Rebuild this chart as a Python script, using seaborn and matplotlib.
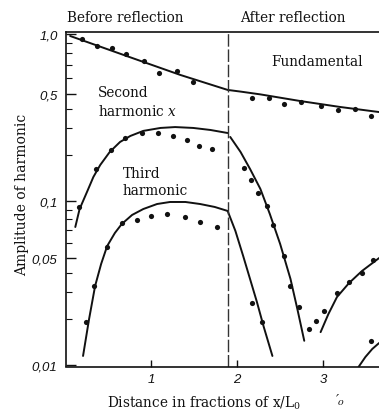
import numpy as np
import pandas as pd
import matplotlib
matplotlib.use("Agg")
import matplotlib.pyplot as plt
import seaborn as sns

# ---------------- data ----------------
reflection_x = 1.89

fund_curve_x = [0.06, 0.78, 1.34, 1.89, 2.04, 2.27, 2.73, 3.20, 3.65]
fund_curve_y = [0.977, 0.758, 0.623, 0.524, 0.514, 0.497, 0.450, 0.411, 0.381]
fund_pts_x = [0.20, 0.37, 0.55, 0.71, 0.92, 1.09, 1.30, 1.49,
              2.17, 2.37, 2.55, 2.74, 2.97, 3.17, 3.37, 3.55]
fund_pts_y = [0.944, 0.871, 0.851, 0.794, 0.732, 0.637, 0.652, 0.574,
              0.471, 0.471, 0.430, 0.444, 0.418, 0.393, 0.399, 0.359]

h2_before_x = [0.12, 0.17, 0.26, 0.33, 0.41, 0.52, 0.64, 0.76, 0.91, 1.11, 1.28, 1.49, 1.69, 1.89]
h2_before_y = [0.0729, 0.0907, 0.116, 0.1435, 0.172, 0.209, 0.243, 0.266, 0.287, 0.300, 0.304, 0.300, 0.291, 0.278]
h2_after_x = [1.92, 2.04, 2.15, 2.27, 2.38, 2.50, 2.62, 2.70, 2.78]
h2_after_y = [0.262, 0.209, 0.162, 0.120, 0.0854, 0.0593, 0.0365, 0.0232, 0.0144]
h2_lobe_x = [2.97, 3.06, 3.16, 3.30, 3.45, 3.65]
h2_lobe_y = [0.0164, 0.0215, 0.0278, 0.0343, 0.0411, 0.050]
h2_pts_x = [0.16, 0.36, 0.54, 0.70, 0.90, 1.08, 1.26, 1.42, 1.56, 1.71,
            2.08, 2.16, 2.24, 2.35, 2.42, 2.54, 2.62, 2.72, 2.83, 2.92, 3.01, 3.16, 3.30, 3.45, 3.58]
h2_pts_y = [0.093, 0.162, 0.215, 0.258, 0.278, 0.278, 0.266, 0.250, 0.229, 0.219,
            0.164, 0.137, 0.113, 0.094, 0.0747, 0.0513, 0.0328, 0.0239, 0.0172, 0.0194, 0.0225, 0.0295, 0.0348, 0.0399, 0.0485]

h3_before_x = [0.21, 0.28, 0.35, 0.42, 0.49, 0.58, 0.66, 0.78, 0.91, 1.07, 1.22, 1.40, 1.57, 1.74, 1.89]
h3_before_y = [0.01146, 0.01995, 0.0328, 0.0457, 0.0578, 0.0678, 0.0756, 0.0844, 0.0907, 0.0964, 0.0988, 0.0988, 0.0964, 0.0930, 0.0886]
h3_after_x = [1.89, 1.98, 2.07, 2.15, 2.23, 2.31, 2.41]
h3_after_y = [0.0886, 0.0695, 0.0513, 0.0365, 0.0258, 0.0177, 0.01146]
h3_lobe_x = [3.41, 3.49, 3.57, 3.65]
h3_lobe_y = [0.0097, 0.01128, 0.01273, 0.01393]
h3_pts_x = [0.24, 0.34, 0.49, 0.66, 0.84, 1.00, 1.19, 1.40, 1.57, 1.77, 2.17, 2.29, 3.56]
h3_pts_y = [0.0191, 0.0328, 0.0571, 0.0765, 0.0794, 0.0833, 0.0854, 0.0823, 0.0775, 0.0729, 0.0254, 0.0191, 0.01436]

y_tick_values = [1.0, 0.5, 0.1, 0.05, 0.01]
y_tick_labels = ["1,0", "0,5", "0,1", "0,05", "0,01"]
y_minor_values = [0.9, 0.8, 0.7, 0.6, 0.4, 0.3, 0.2, 0.09, 0.08, 0.07, 0.06, 0.04, 0.03, 0.02]
x_tick_values = [1, 2, 3]
x_tick_labels = ["1", "2", "3"]

# ---------------- build tables ----------------
segments = [
    ("fund", fund_curve_x, fund_curve_y),
    ("h2a", h2_before_x, h2_before_y),
    ("h2b", h2_after_x, h2_after_y),
    ("h2c", h2_lobe_x, h2_lobe_y),
    ("h3a", h3_before_x, h3_before_y),
    ("h3b", h3_after_x, h3_after_y),
    ("h3c", h3_lobe_x, h3_lobe_y),
]
curves = pd.concat([pd.DataFrame({"x": xs, "y": ys, "seg": name}) for name, xs, ys in segments],
                   ignore_index=True)
points = pd.concat([
    pd.DataFrame({"x": fund_pts_x, "y": fund_pts_y}),
    pd.DataFrame({"x": h2_pts_x, "y": h2_pts_y}),
    pd.DataFrame({"x": h3_pts_x, "y": h3_pts_y}),
], ignore_index=True)

# ---------------- axis scale of the printed chart (non-uniform log) ----------------
LOG_K = np.log10([0.01, 0.05, 0.1, 0.5, 1.0])
POS_K = np.array([0.0, 107.0, 164.0, 271.0, 331.0])


def _pw(v, xk, yk):
    v = np.asarray(v, dtype=float)
    out = np.interp(v, xk, yk)
    s_lo = (yk[1] - yk[0]) / (xk[1] - xk[0])
    s_hi = (yk[-1] - yk[-2]) / (xk[-1] - xk[-2])
    out = np.where(v < xk[0], yk[0] + (v - xk[0]) * s_lo, out)
    out = np.where(v > xk[-1], yk[-1] + (v - xk[-1]) * s_hi, out)
    return out


def fwd(v):
    v = np.asarray(v, dtype=float)
    return _pw(np.log10(np.clip(v, 1e-12, None)), LOG_K, POS_K)


def inv(p):
    return 10 ** _pw(p, POS_K, LOG_K)


# ---------------- figure ----------------
sns.set_style("white")
plt.rcParams["font.family"] = ["DejaVu Serif"]
plt.rcParams["mathtext.fontset"] = "dejavuserif"

W, H = 379, 414
fig = plt.figure(figsize=(W / 100, H / 100), dpi=100)
fig.patch.set_facecolor("white")
ax = fig.add_axes([66 / W, 1 - 367.5 / H, 314 / W, (367.5 - 33) / H])
ax.set_yscale("function", functions=(fwd, inv))

ink = "#111111"
sns.lineplot(data=curves, x="x", y="y", units="seg", estimator=None, sort=False,
             color=ink, linewidth=1.4, ax=ax, legend=False)
sns.scatterplot(data=points, x="x", y="y", color=ink, s=14, linewidth=0, ax=ax, legend=False)
ax.axvline(reflection_x, color="#333333", linewidth=1.0, linestyle=(0, (9, 2)))

ax.set_xlim(0.012, 3.66)
ax.set_ylim(0.00978, 1.023)

ax.set_yticks(y_tick_values)
ax.set_yticklabels(y_tick_labels)
ax.set_yticks(y_minor_values, minor=True)
ax.set_xticks(x_tick_values)
ax.set_xticklabels(x_tick_labels)
ax.xaxis.set_minor_locator(matplotlib.ticker.NullLocator())

tick_font = dict(family="Liberation Sans", style="italic", size=9.5)
for lab in ax.get_yticklabels() + ax.get_xticklabels():
    lab.set_fontfamily("Liberation Sans")
    lab.set_fontstyle("italic")
    lab.set_fontsize(9.5)
ax.tick_params(axis="y", which="major", direction="in", length=7, width=1, pad=6, colors=ink,
               left=True)
ax.tick_params(axis="y", which="minor", direction="in", length=4, width=0.8, left=True, colors=ink)
ax.tick_params(axis="x", which="major", direction="in", length=5, width=1, pad=5, colors=ink,
               bottom=True)

for side in ["left", "bottom", "top"]:
    ax.spines[side].set_color(ink)
    ax.spines[side].set_linewidth(1.2)
ax.spines["right"].set_visible(False)

ax.set_ylabel("Amplitude of harmonic", fontsize=10, color=ink)
ax.yaxis.set_label_coords(-0.118, 0.516)
ax.set_xlabel(r"Distance in fractions of x/L$_0$", fontsize=9.8, color=ink)
ax.xaxis.set_label_coords(0.441, -0.082)


def px(x, y):
    return x / W, 1 - y / H


txt = dict(color=ink, fontsize=9.8, va="center")
fig.text(*px(125, 18), "Before reflection", ha="center", **txt)
fig.text(*px(293, 18), "After reflection", ha="center", **txt)
fig.text(*px(317, 62), "Fundamental", ha="center", **txt)
fig.text(*px(98, 93), "Second", ha="left", **txt)
fig.text(*px(98, 111), r"harmonic $x$", ha="left", **txt)
fig.text(*px(123, 174), "Third", ha="left", **txt)
fig.text(*px(123, 191), "harmonic", ha="left", **txt)
fig.text(*px(340, 401), "\u2032\u2080", ha="center", color=ink, fontsize=10, va="center",
         style="italic")

fig.savefig("out.png", dpi=100, facecolor="white")
